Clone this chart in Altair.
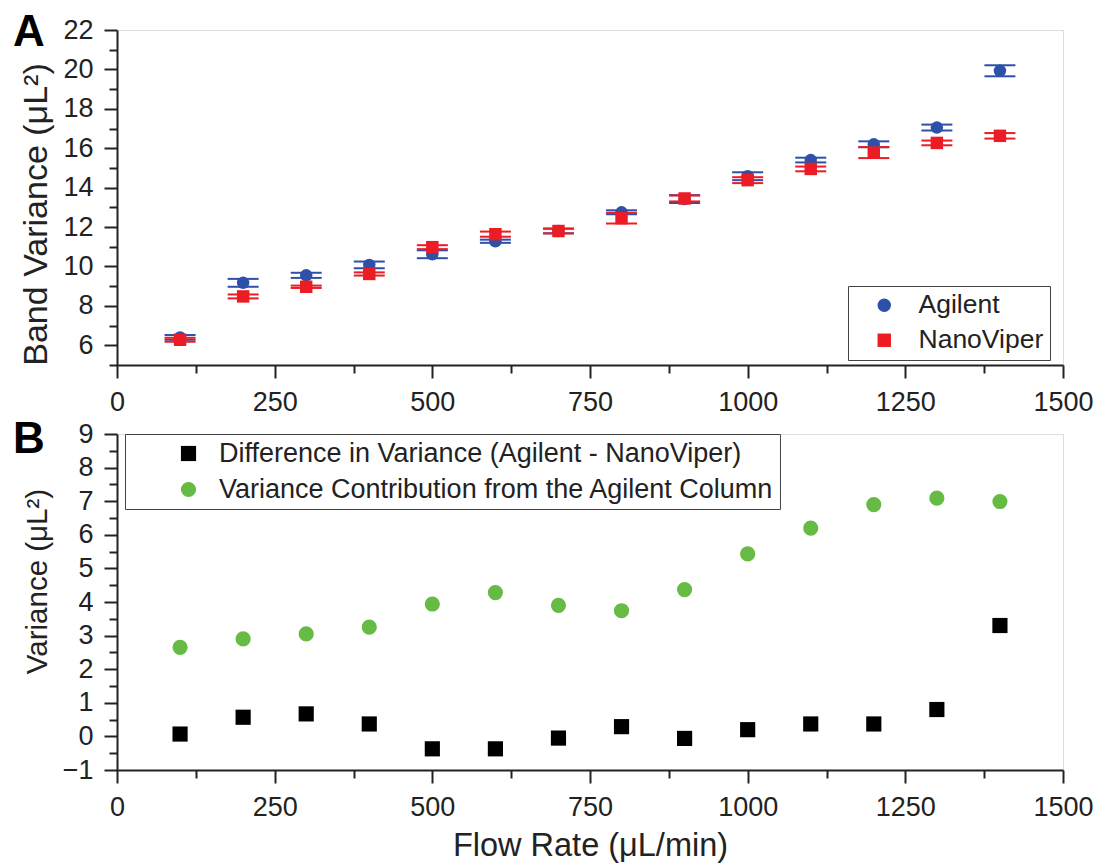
import altair as alt
import pandas as pd

# ---------------- data ----------------
flow = [100, 200, 300, 400, 500, 600, 700, 800, 900, 1000, 1100, 1200, 1300, 1400]
agilent = [6.40, 9.17, 9.55, 10.08, 10.62, 11.28, 11.80, 12.75, 13.42, 14.58, 15.40, 16.20, 17.05, 19.93]
agilent_err = [0.12, 0.20, 0.13, 0.17, 0.20, 0.08, 0.12, 0.10, 0.20, 0.20, 0.12, 0.15, 0.15, 0.28]
nano = [6.28, 8.48, 8.97, 9.62, 10.98, 11.64, 11.80, 12.45, 13.45, 14.38, 14.95, 15.78, 16.27, 16.63]
nano_err = [0.10, 0.10, 0.06, 0.08, 0.10, 0.13, 0.12, 0.27, 0.15, 0.15, 0.12, 0.28, 0.12, 0.14]
difference = [0.07, 0.57, 0.67, 0.37, -0.37, -0.37, -0.05, 0.29, -0.06, 0.20, 0.37, 0.37, 0.80, 3.30]
contribution = [2.65, 2.90, 3.05, 3.25, 3.94, 4.28, 3.90, 3.74, 4.37, 5.43, 6.20, 6.90, 7.09, 6.99]

series_a = ["Agilent", "NanoViper"]
series_b = ["Difference in Variance (Agilent - NanoViper)",
            "Variance Contribution from the Agilent Column"]

x_ticks = [0, 250, 500, 750, 1000, 1250, 1500]
x_minor = [125, 375, 625, 875, 1125, 1375]
ya_ticks = [6, 8, 10, 12, 14, 16, 18, 20, 22]
ya_minor = [5, 7, 9, 11, 13, 15, 17, 19, 21]
yb_ticks = [-1, 0, 1, 2, 3, 4, 5, 6, 7, 8, 9]
yb_minor = [-0.5, 0.5, 1.5, 2.5, 3.5, 4.5, 5.5, 6.5, 7.5, 8.5]

BLUE = "#2d50a8"
RED = "#ec1c24"
GREEN = "#66bb44"
BLACK = "#000000"
FONT = "Liberation Sans"
INK = "#222222"

rows = []
for s, vals, errs in [("Agilent", agilent, agilent_err), ("NanoViper", nano, nano_err)]:
    for f, v, e in zip(flow, vals, errs):
        rows.append({"Flow": f, "Value": v, "Lo": v - e, "Hi": v + e, "Series": s})
dfA = pd.DataFrame(rows)

rowsB = []
for s, vals in [(series_b[0], difference), (series_b[1], contribution)]:
    for f, v in zip(flow, vals):
        rowsB.append({"Flow": f, "Value": v, "Series": s})
dfB = pd.DataFrame(rowsB)

W = 946
HA = 335
HB = 336

x_scale = alt.Scale(domain=[0, 1500], nice=False, zero=False)
ya_scale = alt.Scale(domain=[5, 22], nice=False, zero=False)
yb_scale = alt.Scale(domain=[-1, 9], nice=False, zero=False)

common_axis = dict(grid=False, labelFont=FONT, labelFontSize=27, labelColor=INK, labelFlush=False,
                   titleFont=FONT, titleFontWeight="normal", titleColor=INK,
                   domainColor=INK, domainWidth=2, tickColor=INK, tickWidth=2, tickSize=13)

xa_axis = alt.Axis(values=x_ticks, format="d", title=None, labelPadding=11, orient="bottom", **common_axis)
xb_axis = alt.Axis(values=x_ticks, format="d", title="Flow Rate (μL/min)", labelPadding=11,
                   titlePadding=9, titleFontSize=32.5, orient="bottom", **common_axis)
ya_axis = alt.Axis(values=ya_ticks, format="d", title="Band Variance (μL²)", labelPadding=11,
                   titlePadding=12, titleFontSize=34, titleY=184,
                   minExtent=52, maxExtent=52, orient="left", **common_axis)
yb_axis = alt.Axis(values=yb_ticks, format="d", title="Variance (μL²)", labelPadding=11,
                   titlePadding=13, titleFontSize=29.5, titleY=147,
                   minExtent=52, maxExtent=52, orient="left", **common_axis)

minor_common = dict(labels=False, domain=False, grid=False, title=None, tickSize=8,
                    tickWidth=2, tickColor=INK)
x_minor_axis = alt.Axis(values=x_minor, orient="bottom", **minor_common)
ya_minor_axis = alt.Axis(values=ya_minor, orient="left", **minor_common)
yb_minor_axis = alt.Axis(values=yb_minor, orient="left", **minor_common)


def letter(txt, dy):
    return alt.Chart(pd.DataFrame({"t": [txt]})).mark_text(
        font=FONT, fontSize=44, fontWeight="bold", color=BLACK, align="left", baseline="top"
    ).encode(x=alt.value(-104), y=alt.value(dy), text="t:N")


# ---------------- Panel A ----------------
def err_layers(name, color):
    base = alt.Chart(dfA).transform_filter(alt.datum.Series == name)
    rule = base.mark_rule(color=color, strokeWidth=2).encode(
        x=alt.X("Flow:Q", scale=x_scale, axis=xa_axis),
        y=alt.Y("Lo:Q", scale=ya_scale, axis=ya_axis),
        y2="Hi:Q",
    )
    cap_lo = base.mark_tick(color=color, size=31, thickness=2, orient="horizontal", opacity=1).encode(
        x=alt.X("Flow:Q", scale=x_scale, axis=xa_axis),
        y=alt.Y("Lo:Q", scale=ya_scale, axis=ya_axis),
    )
    cap_hi = base.mark_tick(color=color, size=31, thickness=2, orient="horizontal", opacity=1).encode(
        x=alt.X("Flow:Q", scale=x_scale, axis=xa_axis),
        y=alt.Y("Hi:Q", scale=ya_scale, axis=ya_axis),
    )
    return [rule, cap_lo, cap_hi]


legendA = alt.Legend(title=None, orient="none", legendX=731, legendY=256,
                     strokeColor="#444444", fillColor="white",
                     padding=6, symbolSize=180, symbolOffset=17, labelOffset=21,
                     rowPadding=8, labelFont=FONT, labelFontSize=26.5, labelColor=INK,
                     symbolStrokeWidth=0)

pointsA = alt.Chart(dfA).mark_point(filled=True, opacity=1, size=155).encode(
    x=alt.X("Flow:Q", scale=x_scale, axis=xa_axis),
    y=alt.Y("Value:Q", scale=ya_scale, axis=ya_axis),
    color=alt.Color("Series:N", scale=alt.Scale(domain=series_a, range=[BLUE, RED]), legend=legendA),
    shape=alt.Shape("Series:N", scale=alt.Scale(domain=series_a, range=["circle", "square"]), legend=legendA),
    order=alt.Order("Series:N"),
)

innerA = alt.layer(*err_layers("Agilent", BLUE), *err_layers("NanoViper", RED), pointsA, letter("A", -19))

minorA = alt.Chart(dfA).mark_point(opacity=0).encode(
    x=alt.X("Flow:Q", scale=x_scale, axis=x_minor_axis),
    y=alt.Y("Value:Q", scale=ya_scale, axis=ya_minor_axis),
)

panelA = alt.layer(innerA, minorA).resolve_axis(x="independent", y="independent").properties(
    width=W, height=HA)

# ---------------- Panel B ----------------
legendB = alt.Legend(title=None, orient="none", legendX=8, legendY=0,
                     strokeColor="#444444", fillColor="white",
                     padding=6, symbolSize=230, symbolOffset=44, labelOffset=17,
                     rowPadding=8, labelFont=FONT, labelFontSize=27, labelColor=INK,
                     symbolStrokeWidth=0, labelLimit=900)

pointsB = alt.Chart(dfB).mark_point(filled=True, opacity=1, size=230).encode(
    x=alt.X("Flow:Q", scale=x_scale, axis=xb_axis),
    y=alt.Y("Value:Q", scale=yb_scale, axis=yb_axis),
    color=alt.Color("Series:N", scale=alt.Scale(domain=series_b, range=[BLACK, GREEN]), legend=legendB),
    shape=alt.Shape("Series:N", scale=alt.Scale(domain=series_b, range=["square", "circle"]), legend=legendB),
)

innerB = alt.layer(pointsB, letter("B", -16))

minorB = alt.Chart(dfB).mark_point(opacity=0).encode(
    x=alt.X("Flow:Q", scale=x_scale, axis=x_minor_axis),
    y=alt.Y("Value:Q", scale=yb_scale, axis=yb_minor_axis),
)

panelB = alt.layer(innerB, minorB).resolve_axis(x="independent", y="independent").properties(
    width=W, height=HB)

chart = alt.vconcat(panelA, panelB, spacing=69, bounds="flush").resolve_scale(
    color="independent", shape="independent"
).properties(
    padding={"left": 12, "top": 10, "right": 5, "bottom": 5}
).configure_view(stroke=None).configure_legend(strokeWidth=1.5).configure(background="white")

chart.save("out.html", embed_options={"renderer": "svg", "actions": False})
